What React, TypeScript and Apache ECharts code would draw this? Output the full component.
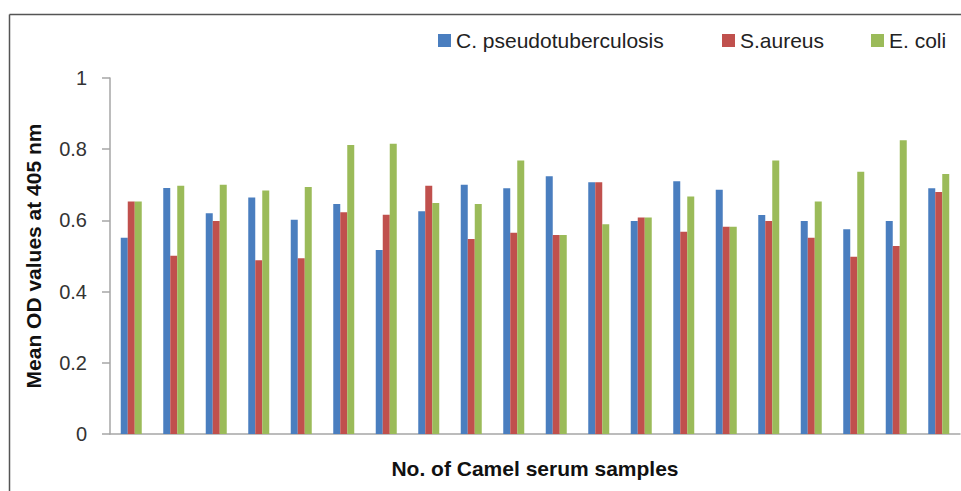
import React, { useEffect, useRef } from "react";
import * as echarts from "echarts";

const categories = [
  "1", "2", "3", "4", "5", "6", "7", "8", "9", "10",
  "11", "12", "13", "14", "15", "16", "17", "18", "19", "20",
];
const seriesNames = ["C. pseudotuberculosis", "S.aureus", "E. coli"];
const cPseudo = [0.551, 0.691, 0.62, 0.664, 0.602, 0.646, 0.517, 0.626, 0.7, 0.69, 0.724, 0.707, 0.598, 0.71, 0.686, 0.615, 0.598, 0.575, 0.598, 0.69];
const sAureus = [0.653, 0.501, 0.598, 0.488, 0.494, 0.623, 0.616, 0.697, 0.548, 0.565, 0.559, 0.707, 0.608, 0.568, 0.582, 0.598, 0.551, 0.498, 0.528, 0.68];
const eColi = [0.653, 0.697, 0.7, 0.684, 0.694, 0.812, 0.815, 0.649, 0.646, 0.768, 0.559, 0.589, 0.608, 0.667, 0.582, 0.768, 0.653, 0.737, 0.825, 0.73];
const colors = ["#4a7ebf", "#c0504d", "#9bbb59"];
const legendLefts = [433, 717, 866];

export default function App() {
  const ref = useRef<HTMLDivElement>(null);
  useEffect(() => {
    if (!ref.current) return;
    const chart = echarts.init(ref.current, null, { renderer: "svg" });
    const font = "'Liberation Sans', Arial, sans-serif";
    const data = [cPseudo, sAureus, eColi];
    chart.setOption({
      animation: false,
      backgroundColor: "#ffffff",
      textStyle: { fontFamily: font },
      legend: seriesNames.map((n, i) => ({
        data: [n],
        left: legendLefts[i],
        top: 25,
        itemWidth: 13,
        itemHeight: 13,
        itemGap: 0,
        icon: "rect",
        textStyle: { fontSize: 21, color: "#222", fontFamily: font },
      })),
      grid: { left: 110, right: 1, top: 78, bottom: 57, containLabel: false },
      xAxis: {
        type: "category",
        data: categories,
        name: "No. of Camel serum samples",
        nameLocation: "middle",
        nameGap: 24,
        nameTextStyle: { fontSize: 21, fontWeight: "bold", color: "#111", fontFamily: font },
        axisLine: { lineStyle: { color: "#a6a6a6", width: 1.5 } },
        axisTick: { show: false },
        axisLabel: { show: false },
      },
      yAxis: {
        type: "value",
        min: 0,
        max: 1,
        interval: 0.2,
        name: "Mean OD values at 405 nm",
        nameLocation: "middle",
        nameGap: 66,
        nameTextStyle: { fontSize: 21, fontWeight: "bold", color: "#111", fontFamily: font },
        axisLine: { show: true, lineStyle: { color: "#a6a6a6", width: 1.5 } },
        axisTick: { show: true, length: 8, lineStyle: { color: "#a6a6a6", width: 1.5 } },
        splitLine: { show: false },
        axisLabel: { fontSize: 20, color: "#333", margin: 23, fontFamily: font },
      },
      series: seriesNames.map((n, i) => ({
        name: n,
        type: "bar",
        data: data[i],
        barWidth: 7,
        barGap: "0%",
        itemStyle: { color: colors[i] },
      })),
      graphic: [
        { type: "line", shape: { x1: 9.5, y1: 14.5, x2: 961, y2: 14.5 }, style: { stroke: "#555", lineWidth: 1.5 } },
        { type: "line", shape: { x1: 9.5, y1: 14.5, x2: 9.5, y2: 491 }, style: { stroke: "#555", lineWidth: 1.5 } },
      ],
    });
    return () => chart.dispose();
  }, []);
  return <div ref={ref} style={{ position: "absolute", left: 0, top: 0, width: 961, height: 491 }} />;
}
